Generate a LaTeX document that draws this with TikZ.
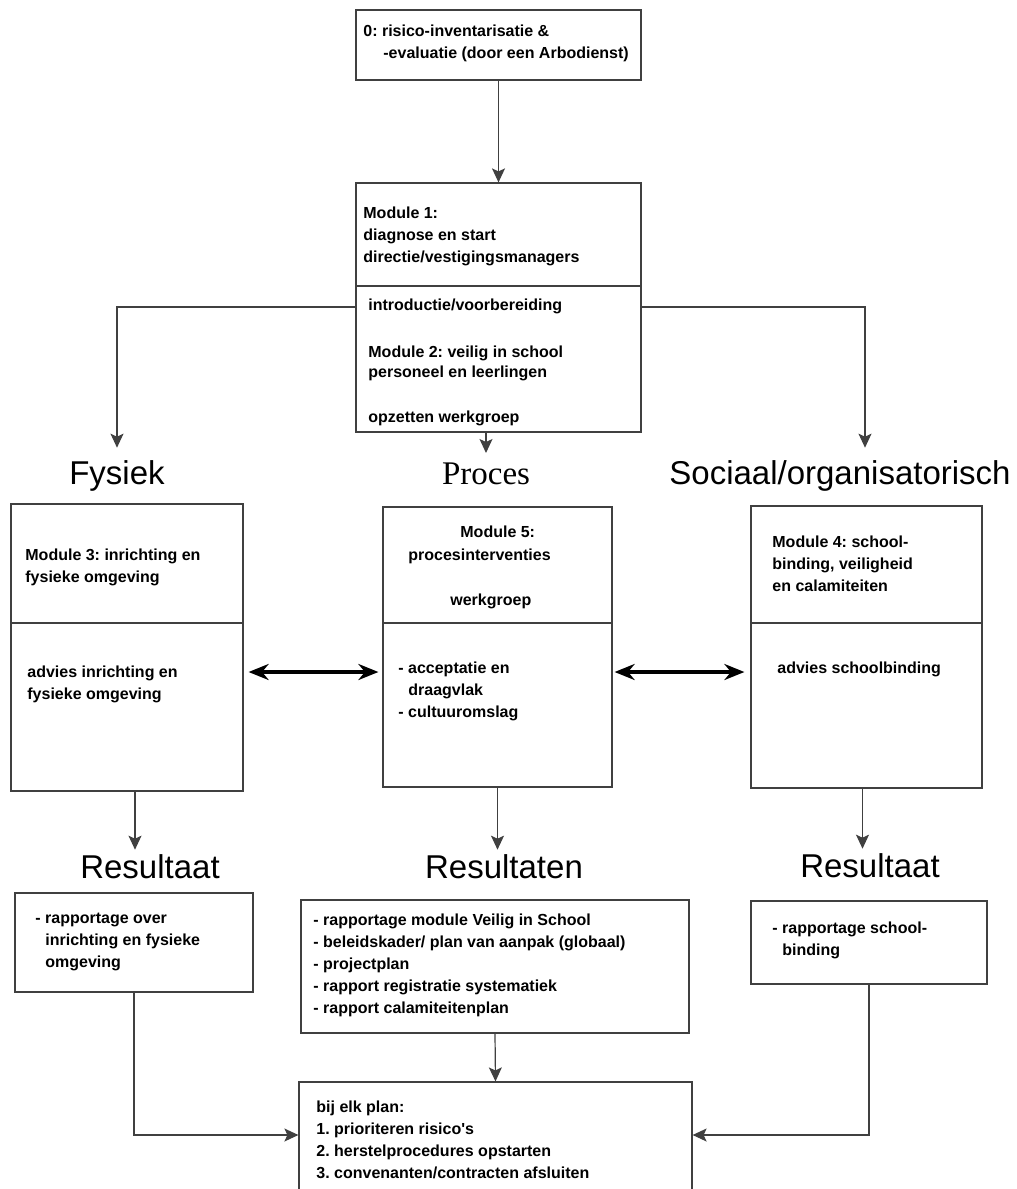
\documentclass[tikz,border=0pt]{standalone}
\usepackage{fontspec}
\setmainfont{Liberation Sans}
\newfontfamily\serifface{Liberation Serif}
\usetikzlibrary{arrows.meta,fit}
\frenchspacing

\tikzset{
  box/.style={draw=black!75,line width=0.6pt,inner sep=0pt},
  txt/.style={font=\fontsize{8}{11}\selectfont\bfseries,align=left,anchor=base west,inner sep=0pt},
  kop/.style={font=\fontsize{16.5}{18}\selectfont,anchor=base,inner sep=0pt},
  pijl/.style={draw=black!75,line width=0.6pt,-{Stealth[length=7pt,width=6.5pt,inset=1.5pt]}},
  dubbel/.style={line width=1.7pt,{Stealth[length=10pt,width=8pt]}-{Stealth[length=10pt,width=8pt]}},
}

\begin{document}
\begin{tikzpicture}[x=0.5pt,y=-0.5pt]
\useasboundingbox (0,0) rectangle (1017,1189);

% kaders
\node[box,fit={(356,10) (641,80)}] (ri) {};
\node[box,fit={(356,183) (641,432)}] (m1) {};
\node[box,fit={(11,504) (243,791)}] (fys) {};
\node[box,fit={(383,507) (612,787)}] (proc) {};
\node[box,fit={(751,506) (982,788)}] (soc) {};
\node[box,fit={(15,893) (253,992)}] (resf) {};
\node[box,fit={(301,900) (689,1033)}] (resp) {};
\node[box,fit={(751,901) (987,984)}] (ress) {};
\node[box,fit={(299,1082) (692,1200)}] (plan) {};

% scheidingslijnen
\coordinate (d1) at (0,286);
\coordinate (d2) at (0,623);
\draw[box] (m1.west |- d1) -- (m1.east |- d1);
\draw[box] (fys.west |- d2) -- (fys.east |- d2);
\draw[box] (proc.west |- d2) -- (proc.east |- d2);
\draw[box] (soc.west |- d2) -- (soc.east |- d2);

% teksten (base = laatste regel)
\node[txt] (t0) at (363,58) {0: risico-inventarisatie \&\\\hspace*{10pt}-evaluatie (door een Arbodienst)};
\node[txt] (t1) at (363,262) {Module 1:\\diagnose en start\\directie/vestigingsmanagers};
\node[txt] (t1a) at (368,310) {introductie/voorbereiding};
\node[txt] (t1b) at (368,377) {Module 2: veilig in school\\[-1pt]personeel en leerlingen};
\node[txt] (t1c) at (368,422) {opzetten werkgroep};

\node[txt] (t3) at (25,582) {Module 3: inrichting en\\fysieke omgeving};
\node[txt] (t3a) at (27,699) {advies inrichting en\\fysieke omgeving};
\node[txt] (t5) at (460,537) {Module 5:};
\node[txt] (t5a) at (408,560) {procesinterventies};
\node[txt] (t5b) at (450,605) {werkgroep};
\node[txt] (t5c) at (398,717) {- acceptatie en\\\hspace*{5pt}draagvlak\\- cultuuromslag};
\node[txt] (t4) at (772,591) {Module 4: school-\\binding, veiligheid\\en calamiteiten};
\node[txt] (t4a) at (777,673) {advies schoolbinding};

\node[txt] (rf) at (35,967) {- rapportage over\\\hspace*{5pt}inrichting en fysieke\\\hspace*{5pt}omgeving};
\node[txt] (rp) at (313,1013) {- rapportage module Veilig in School\\- beleidskader/ plan van aanpak (globaal)\\- projectplan\\- rapport registratie systematiek\\- rapport calamiteitenplan};
\node[txt] (rs) at (772,955) {- rapportage school-\\\hspace*{5pt}binding};
\node[txt] (pl) at (316,1178) {bij elk plan:\\1. prioriteren risico\textquotesingle s\\2. herstelprocedures opstarten\\3. convenanten/contracten afsluiten};

% koppen
\node[kop] (lfys) at (117,484) {Fysiek};
\node[kop,font=\serifface\fontsize{16.5}{18}\selectfont] (lproc) at (486,484) {Proces};
\node[kop] (lsoc) at (840,484) {Sociaal/organisatorisch};
\node[kop] (lresf) at (150,878) {Resultaat};
\node[kop] (lresp) at (504,878) {Resultaten};
\node[kop] (lress) at (870,877) {Resultaat};

% pijlen
\coordinate (tak) at (0,307);
\coordinate (rij) at (0,672);
\coordinate (lijn) at (0,1135);
\draw[pijl] (ri.south) -- (m1.north);
\draw[pijl,shorten >=4.5pt] (m1.south -| lproc.north) -- (lproc.north);
\draw[pijl,shorten >=6pt] (m1.west |- tak) -| (lfys.north);
\draw[pijl,shorten >=6pt] (m1.east |- tak) -| ([xshift=12.5pt]lsoc.north);
\draw[dubbel,shorten <=2.5pt,shorten >=2pt] (fys.east |- rij) -- (proc.west |- rij);
\draw[dubbel,shorten <=1pt,shorten >=3pt] (proc.east |- rij) -- (soc.west |- rij);
\draw[pijl,shorten >=2pt] ([xshift=4pt]fys.south) -- ([xshift=4pt]fys.south |- lresf.north);
\draw[pijl,shorten >=2pt] (proc.south) -- (proc.south |- lresp.north);
\draw[pijl,shorten >=2pt] ([xshift=-2pt]soc.south) -- ([xshift=-2pt]soc.south |- lress.north);
\draw[pijl] (resf.south) |- (plan.west |- lijn);
\draw[pijl] (ress.south) |- (plan.east |- lijn);
\draw[pijl] (resp.south) -- (plan.north);

\end{tikzpicture}
\end{document}
